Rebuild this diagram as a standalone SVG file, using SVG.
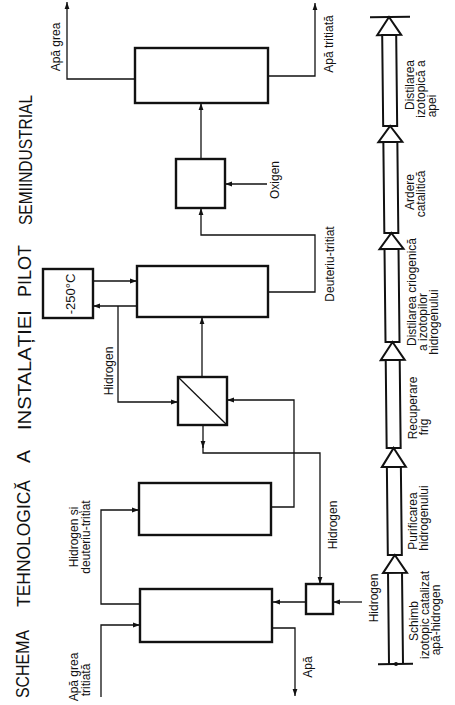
<svg xmlns="http://www.w3.org/2000/svg" width="455" height="705" viewBox="0 0 455 705">
<defs>
<marker id="ah" markerUnits="userSpaceOnUse" markerWidth="8" markerHeight="6" refX="7" refY="3" orient="auto">
<path d="M0,0.6 L7,3 L0,5.4 z" fill="#111"/>
</marker>
</defs>
<style>
.box{fill:#fff;stroke:#111;stroke-width:2.4}
.ln{fill:none;stroke:#111;stroke-width:1.3}
.ar{fill:none;stroke:#111;stroke-width:1.3;marker-end:url(#ah)}
.bar{fill:#fff;stroke:#111;stroke-width:2}
text{font-family:"Liberation Sans",Arial,sans-serif;font-size:12px;fill:#111}
.c{text-anchor:middle}
.title{font-size:18px}
</style>
<rect width="455" height="705" fill="#fff"/>

<g id="titlu">
<text class="title c" transform="translate(29.2 664) rotate(-90)" textLength="68" lengthAdjust="spacingAndGlyphs">SCHEMA</text>
<text class="title c" transform="translate(29.8 543.5) rotate(-90)" textLength="127" lengthAdjust="spacingAndGlyphs">TEHNOLOGICĂ</text>
<text class="title c" transform="translate(30.2 456.5) rotate(-90)" textLength="13" lengthAdjust="spacingAndGlyphs">A</text>
<text class="title c" transform="translate(30.6 370) rotate(-90)" textLength="120" lengthAdjust="spacingAndGlyphs">INSTALAȚIEI</text>
<text class="title c" transform="translate(31.1 271) rotate(-90)" textLength="52" lengthAdjust="spacingAndGlyphs">PILOT</text>
<text class="title c" transform="translate(31.7 160) rotate(-90)" textLength="130" lengthAdjust="spacingAndGlyphs">SEMIINDUSTRIAL</text>
</g>

<g id="connectors">
<path class="ar" d="M135,79 H67 V2"/>
<path class="ar" d="M268,76 H315 V3"/>
<path class="ar" d="M201,159 V103"/>
<path class="ar" d="M267,184 H225"/>
<path class="ar" d="M268,292 H315 V235 H201 V208"/>
<path class="ar" d="M93,281 H137"/>
<path class="ar" d="M137,306 H93"/>
<path class="ar" d="M118,306 V402 H178"/>
<path class="ar" d="M202,377 V317"/>
<path class="ar" d="M271,507 H294 V400 H227"/>
<path class="ar" d="M203,425 V448"/>
<path class="ar" d="M203,446 V453 H320 V584"/>
<path class="ar" d="M140,604 H101 V510 H139"/>
<path class="ar" d="M101,697 V625 H140"/>
<path class="ar" d="M306,602 H273"/>
<path class="ar" d="M362,602 H333"/>
<path class="ar" d="M273,628 H295 V696"/>
</g>

<g id="distilare-apa"><rect class="box" x="135" y="48" width="133" height="55"/></g>
<g id="ardere"><rect class="box" x="176" y="159" width="49" height="49"/></g>
<g id="distilare-criogenica"><rect class="box" x="137" y="266" width="131" height="51"/></g>
<g id="racire"><rect class="box" x="43" y="269" width="50" height="49"/>
<text class="c" style="font-size:13px" transform="translate(75 294) rotate(-90)">-250°C</text></g>
<g id="membrana"><rect class="box" x="178" y="377" width="49" height="48"/><path class="ln" d="M178,377 L227,425"/></g>
<g id="purificare"><rect class="box" x="139" y="483" width="132" height="52"/></g>
<g id="schimb"><rect class="box" x="140" y="589" width="132" height="53"/></g>
<g id="saturator"><rect class="box" x="306" y="584" width="27" height="30"/></g>

<g id="labels">
<text class="c" transform="translate(60 47) rotate(-90)">Apă grea</text>
<text class="c" transform="translate(333 44) rotate(-90)">Apă tritiată</text>
<text class="c" transform="translate(279 180) rotate(-90)">Oxigen</text>
<text class="c" transform="translate(334 264) rotate(-90)">Deuteriu-tritiat</text>
<text class="c" transform="translate(113 371) rotate(-90)">Hidrogen</text>
<text class="c" transform="translate(78 537) rotate(-90)">Hidrogen și</text>
<text class="c" transform="translate(90 537) rotate(-90)">deuteriu-tritiat</text>
<text class="c" transform="translate(78 677) rotate(-90)">Apă grea</text>
<text class="c" transform="translate(90 680) rotate(-90)">tritiată</text>
<text class="c" transform="translate(312 667) rotate(-90)">Apă</text>
<text class="c" transform="translate(337 525) rotate(-90)">Hidrogen</text>
<text class="c" transform="translate(378 598) rotate(-90)">Hidrogen</text>
</g>

<g id="lant" transform="rotate(-0.62 389 17)">
<path class="bar" d="M370,17 H410"/>
<g id="etapa-distilare-apa"><path class="bar" d="M389,17 L401,35 H377 Z"/><rect class="bar" x="382" y="35" width="14" height="91"/></g>
<g id="etapa-ardere"><path class="bar" d="M389,126 L401,142 H377 Z"/><rect class="bar" x="382" y="142" width="14" height="91"/></g>
<g id="etapa-criogenica"><path class="bar" d="M389,233 L401,249 H377 Z"/><rect class="bar" x="382" y="249" width="14" height="93"/></g>
<g id="etapa-frig"><path class="bar" d="M389,342 L401,360 H377 Z"/><rect class="bar" x="382" y="360" width="14" height="88"/></g>
<g id="etapa-purificare"><path class="bar" d="M389,448 L401,467 H377 Z"/><rect class="bar" x="382" y="467" width="14" height="88"/></g>
<g id="etapa-schimb"><path class="bar" d="M389,555 L401,573 H377 Z"/><path class="bar" d="M382,573 V664 M396,573 V664"/><path class="bar" d="M371,664 H406"/><circle cx="389" cy="664" r="2" fill="#111"/></g>
</g>

<g id="etichete-lant">
<text class="c" transform="translate(414 85) rotate(-90)">Distilarea</text>
<text class="c" transform="translate(425 89) rotate(-90)">izotopică a</text>
<text class="c" transform="translate(436 106) rotate(-90)">apei</text>
<text class="c" transform="translate(414 192) rotate(-90)">Ardere</text>
<text class="c" transform="translate(425 194) rotate(-90)">catalitică</text>
<text class="c" transform="translate(416 292) rotate(-90)">Distilarea criogenică</text>
<text class="c" transform="translate(427 322) rotate(-90)">a izotopilor</text>
<text class="c" transform="translate(438 322) rotate(-90)">hidrogenului</text>
<text class="c" transform="translate(417 408) rotate(-90)">Recuperare</text>
<text class="c" transform="translate(428 427) rotate(-90)">frig</text>
<text class="c" transform="translate(417 521) rotate(-90)">Purificarea</text>
<text class="c" transform="translate(428 518) rotate(-90)">hidrogenului</text>
<text class="c" transform="translate(418 621) rotate(-90)">Schimb</text>
<text class="c" transform="translate(429 615) rotate(-90)">izotopic catalizat</text>
<text class="c" transform="translate(440 620) rotate(-90)">apă-hidrogen</text>
</g>
</svg>
